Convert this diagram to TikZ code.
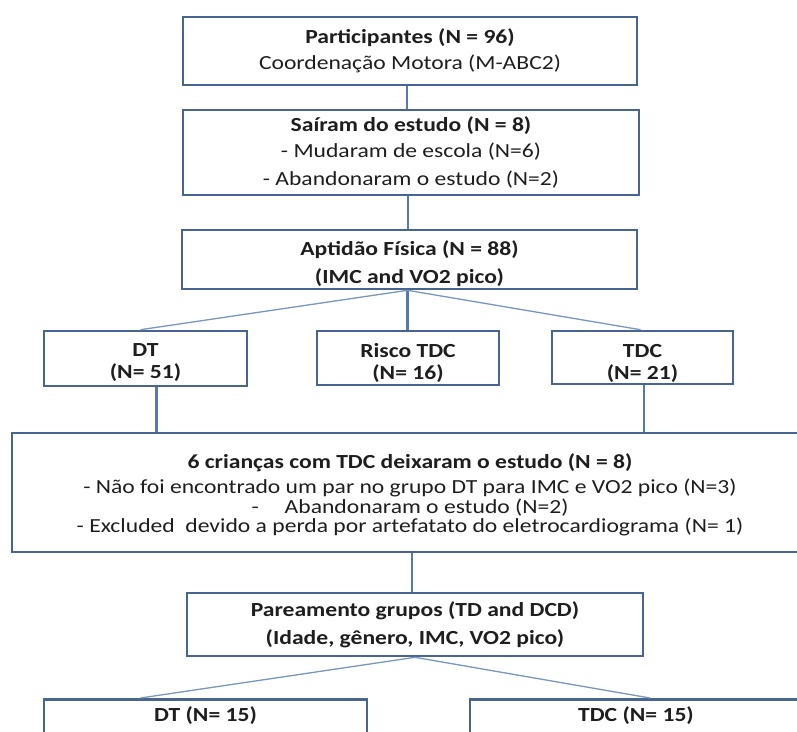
\documentclass[tikz,border=0pt]{standalone}
\usepackage{fontspec}
\setmainfont{Carlito}[FakeStretch=1.18]
\definecolor{boxc}{RGB}{72,100,145}
\definecolor{linec}{RGB}{86,122,174}
\definecolor{fanc}{RGB}{120,150,190}
\definecolor{txt}{RGB}{30,30,30}
\begin{document}
\begin{tikzpicture}[x=1pt,y=1pt,
  box/.style={draw=boxc,line width=2.6pt,inner sep=0pt,align=center,text=txt,
    font=\fontsize{20}{26}\selectfont},
  lbl/.style={inner sep=0pt,align=center,text=txt,font=\fontsize{20}{26}\selectfont},
  conn/.style={draw=linec,line width=2.2pt},
  fan/.style={draw=fanc,line width=1.3pt}]
\path[use as bounding box,clip] (0,0) rectangle (797,-731);
\fill[white] (0,0) rectangle (797,-731);

\node[box,minimum width=454,minimum height=68] (b1) at (410,-51)
  {\textbf{Participantes (N = 96)}\\Coordenação Motora (M-ABC2)};
\node[box,minimum width=456,minimum height=85] (b2) at (411,-152.5)
  {\textbf{Saíram do estudo (N = 8)}\\- Mudaram de escola (N=6)\\[2pt]- Abandonaram o estudo (N=2)};
\node[box,minimum width=455,minimum height=59] (b3) at (409.5,-259.5) {};
\node[lbl] (b3t) at (409.5,-264)
  {\textbf{Aptidão Física (N = 88)}\\[2pt]\textbf{(IMC and VO2 pico)}};
\node[box,minimum width=203,minimum height=55] (dt) at (145.5,-358.5) {};
\node[lbl] (dtt) at (145.5,-363) {\textbf{DT}\\[-4pt]\textbf{(N= 51)}};
\node[box,minimum width=182,minimum height=54] (risco) at (408,-358) {};
\node[lbl] (riscot) at (408,-363) {\textbf{Risco TDC}\\[-4pt]\textbf{(N= 16)}};
\node[box,minimum width=181,minimum height=53] (tdc) at (642.5,-357.5) {};
\node[lbl] (tdct) at (642.5,-363) {\textbf{TDC}\\[-4pt]\textbf{(N= 21)}};
\node[box,minimum width=796,minimum height=119] (big) at (410,-492.5) {};
\node[lbl,font=\fontsize{20}{19.5}\selectfont] (bigt) at (410,-495)
  {\textbf{6 crianças com TDC deixaram o estudo (N = 8)}\\[6pt]
   - Não foi encontrado um par no grupo DT para IMC e VO2 pico (N=3)\\
   -\hspace{1.3em}Abandonaram o estudo (N=2)\\
   - Excluded\ \ devido a perda por artefatato do eletrocardiograma (N= 1)};
\node[box,minimum width=456,minimum height=63] (par) at (415,-624.5)
  {\textbf{Pareamento grupos (TD and DCD)}\\[2pt]\textbf{(Idade, gênero, IMC, VO2 pico)}};
\node[box,minimum width=323,minimum height=60,anchor=north] (bdt) at (205.5,-698) {};
\node[lbl,font=\fontsize{20}{26}\selectfont\bfseries] (bdtt) at (205.5,-716) {DT (N= 15)};
\node[box,minimum width=332,minimum height=60,anchor=north] (btdc) at (636,-698) {};
\node[lbl,font=\fontsize{20}{26}\selectfont\bfseries] (btdct) at (636,-716) {TDC (N= 15)};

\coordinate (b3s) at ([xshift=-2pt]b3.south);
\draw[conn] ([xshift=-3pt]b1.south) -- ([xshift=-3pt]b1.south |- b2.north);
\draw[conn] ([xshift=-3pt]b2.south) -- ([xshift=-3pt]b2.south |- b3.north);
\draw[conn] (b3s) -- (b3s |- risco.north);
\draw[fan] (b3s) -- ([xshift=-5pt]dt.north);
\draw[fan] (b3s) -- ([xshift=-2pt]tdc.north);
\draw[conn] ([xshift=11pt]dt.south) -- ([xshift=11pt]dt.south |- big.north);
\draw[conn] ([xshift=1.5pt]tdc.south) -- ([xshift=1.5pt]tdc.south |- big.north);
\draw[conn] ([xshift=2pt]big.south) -- ([xshift=2pt]big.south |- par.north);
\draw[fan] (par.south) -- ([xshift=-65pt]bdt.north);
\draw[fan] (par.south) -- ([xshift=14pt]btdc.north);
\end{tikzpicture}
\end{document}
